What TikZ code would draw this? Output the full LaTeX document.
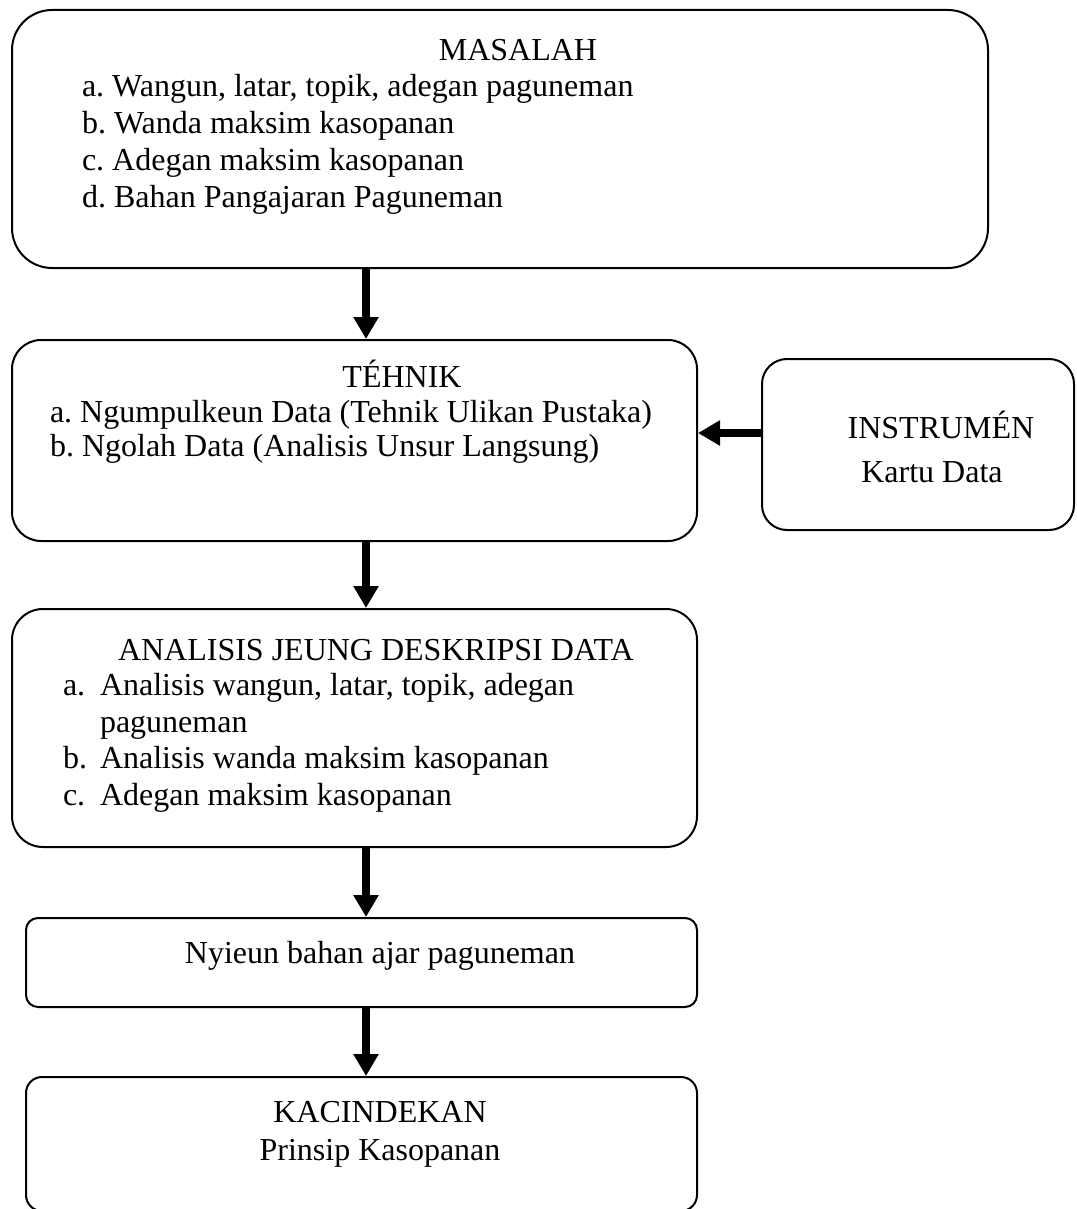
\documentclass[tikz,border=0pt]{standalone}
\usepackage{fontspec}
\setmainfont{Liberation Serif}
\usetikzlibrary{arrows.meta}
\frenchspacing
\tikzset{
  box/.style={draw=black, line width=1pt, fill=none, inner sep=0pt},
  txt/.style={inner sep=0pt, outer sep=0pt, font=\fontsize{16pt}{18pt}\selectfont\frenchspacing},
  tl/.style={txt, anchor=base west},
  tc/.style={txt, anchor=base},
  bigarrow/.style={line width=4pt, -{Triangle[width=12pt,length=11pt]}}
}
\begin{document}
\begin{tikzpicture}[x=0.5pt,y=-0.5pt]
\useasboundingbox (0,0) rectangle (1076,1209);
% boxes
\node[box, minimum width=488pt, minimum height=129pt, rounded corners=20pt] (masalah) at (500,139) {};
\node[box, minimum width=342.5pt, minimum height=100.5pt, rounded corners=14.5pt] (tehnik) at (354.5,440.5) {};
\node[box, minimum width=156pt, minimum height=85.5pt, rounded corners=12.5pt] (instr) at (918,444.5) {};
\node[box, minimum width=342.5pt, minimum height=119pt, rounded corners=15.5pt] (analisis) at (354.5,728) {};
\node[box, minimum width=335.5pt, minimum height=44.5pt, rounded corners=6pt] (nyieun) at (361.5,962.5) {};
\node[box, minimum width=335.5pt, minimum height=67pt, rounded corners=8pt] (kacindekan) at (361.5,1144) {};
% texts: MASALAH
\node[tc] (m0) at (518,61) {MASALAH};
\node[tl] (m1) at (82,97) {a. Wangun, latar, topik, adegan paguneman};
\node[tl] (m2) at (82,134) {b. Wanda maksim kasopanan};
\node[tl] (m3) at (82,171) {c. Adegan maksim kasopanan};
\node[tl] (m4) at (82,208) {d. Bahan Pangajaran Paguneman};
% TEHNIK
\node[tc] (t0) at (402,387) {TÉHNIK};
\node[tl] (t1) at (50,422) {a. Ngumpulkeun Data (Tehnik Ulikan Pustaka)};
\node[tl] (t2) at (50,456) {b. Ngolah Data (Analisis Unsur Langsung)};
% INSTRUMEN
\node[tc] (i0) at (941,438) {INSTRUMÉN};
\node[tc] (i1) at (932,482) {Kartu Data};
% ANALISIS
\node[tl] (a0) at (118,660) {ANALISIS JEUNG DESKRIPSI DATA};
\node[tl] (a1l) at (63,695) {a.};
\node[tl] (a1) at (100,695) {Analisis wangun, latar, topik, adegan};
\node[tl] (a1b) at (100,732) {paguneman};
\node[tl] (a2l) at (63,768) {b.};
\node[tl] (a2) at (100,768) {Analisis wanda maksim kasopanan};
\node[tl] (a3l) at (63,805) {c.};
\node[tl] (a3) at (100,805) {Adegan maksim kasopanan};
% NYIEUN
\node[tc] (n0) at (380,963) {Nyieun bahan ajar paguneman};
% KACINDEKAN
\node[tc] (k0) at (380,1122) {KACINDEKAN};
\node[tc] (k1) at (380,1160) {Prinsip Kasopanan};
% connectors
\coordinate (ax) at (366,0);
\coordinate (ay) at (0,433);
\draw[bigarrow] (ax |- masalah.south) -- (ax |- tehnik.north);
\draw[bigarrow] (instr.west |- ay) -- (tehnik.east |- ay);
\draw[bigarrow] (ax |- tehnik.south) -- (ax |- analisis.north);
\draw[bigarrow] (ax |- analisis.south) -- (ax |- nyieun.north);
\draw[bigarrow] (ax |- nyieun.south) -- (ax |- kacindekan.north);
\end{tikzpicture}
\end{document}
